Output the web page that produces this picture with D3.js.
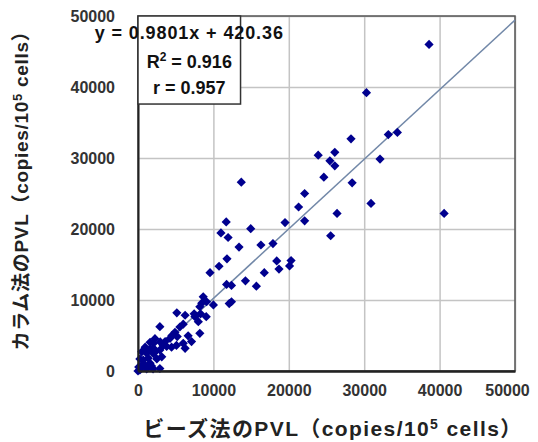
<!DOCTYPE html>
<html>
<head>
<meta charset="utf-8">
<script src="https://cdn.jsdelivr.net/npm/d3@7"></script>
<style>
  body { margin: 0; background: #fff; }
  svg { display: block; }
</style>
</head>
<body>
<svg id="chart" width="538" height="442"></svg>
<script>
// ---- data ----
var beadPVL = [38600, 30300, 33200, 34400, 28250, 23900, 26100, 25450, 26100, 32100,
  24650, 28400, 13700, 22100, 21300, 30900, 26400, 40600, 19500, 22100,
  25550, 11700, 11000, 11950, 14950, 13400, 16300, 17900, 11800, 10750,
  9550, 18400, 18700, 20300, 20100, 14250, 16750, 11750, 12400, 15700,
  8650, 8450, 9100, 10000, 12400, 12100, 8200, 5150, 6250, 7450,
  8300, 7550, 9050, 8000, 2900, 5550, 6000, 4900, 5200, 4500,
  4250, 6650, 7100, 8200, 6000, 6250, 3600, 3800, 4450, 1600,
  2050, 2950, 3350, 2050, 2250, 2900, 3150, 1150, 1350, 700,
  1600, 900, 0, 250, 1150, 2000, 2900, 2250, 950, 500,
  2050, 2500, 250, 1600, 5100, 100, 500, 1800];
var columnPVL = [46000, 39200, 33300, 33600, 32700, 30400, 30800, 29600, 28900, 29850,
  27300, 26500, 26600, 25000, 23100, 23600, 22200, 22200, 20900, 21150,
  19050, 21000, 19450, 18800, 20050, 17450, 17750, 17950, 15800, 14750,
  13850, 15500, 14350, 15550, 14800, 12700, 13850, 12200, 12050, 11950,
  10450, 9550, 9750, 9300, 9750, 9500, 9050, 8200, 7850, 8050,
  8050, 7650, 7650, 6950, 6250, 6200, 6600, 5450, 4850, 5000,
  4600, 4950, 4150, 5300, 3900, 3200, 4150, 3450, 3350, 4050,
  3900, 4100, 3600, 3200, 2700, 2950, 2000, 2500, 1800, 1550,
  1100, 850, 0, 150, 300, 300, 350, 4550, 3350, 2700,
  2450, 1700, 1700, 3150, 3600, 550, 800, 700];

var xTicks = [0, 10000, 20000, 30000, 40000, 50000];
var yTicks = [0, 10000, 20000, 30000, 40000, 50000];

var slope = 0.9801, intercept = 420.36;
var statLines = ["y = 0.9801x + 420.36", "R2 = 0.916", "r = 0.957"];

// ---- layout ----
var svg = d3.select("#chart"),
    margin = {top: 16, right: 23, bottom: 71, left: 138},
    width = +svg.attr("width") - margin.left - margin.right,
    height = +svg.attr("height") - margin.top - margin.bottom,
    g = svg.append("g").attr("transform", "translate(" + margin.left + "," + margin.top + ")");

var font = "'Liberation Sans', Arial, sans-serif";
var jpFont = "'Noto Sans CJK JP', 'Liberation Sans', sans-serif";

var x = d3.scaleLinear().domain([0, 50000]).range([0, width]);
var y = d3.scaleLinear().domain([0, 50000]).range([height, 0]);

// gridlines
g.append("g")
    .attr("class", "grid")
    .call(d3.axisBottom(x).tickValues(xTicks).tickSize(height).tickFormat(""))
    .call(function(s) { s.select(".domain").remove(); })
    .selectAll("line").attr("stroke", "#c4c4c4").attr("stroke-width", 1.5);

g.append("g")
    .attr("class", "grid")
    .call(d3.axisLeft(y).tickValues(yTicks).tickSize(-width).tickFormat(""))
    .call(function(s) { s.select(".domain").remove(); })
    .selectAll("line").attr("stroke", "#c4c4c4").attr("stroke-width", 1.5);

// plot frame
g.append("rect")
    .attr("width", width)
    .attr("height", height)
    .attr("fill", "none")
    .attr("stroke", "#555")
    .attr("stroke-width", 1.5);

// trend line
g.append("line")
    .attr("x1", x(0)).attr("y1", y(intercept))
    .attr("x2", x(50000)).attr("y2", y(slope * 50000 + intercept))
    .attr("stroke", "#7288a8")
    .attr("stroke-width", 1.5);

// points
var diamond = "M0,-4.6L4.6,0L0,4.6L-4.6,0Z";
g.append("g")
  .selectAll("path")
  .data(d3.range(beadPVL.length))
  .enter().append("path")
    .attr("d", diamond)
    .attr("fill", "#00008f")
    .attr("transform", function(i) { return "translate(" + x(beadPVL[i]) + "," + y(columnPVL[i]) + ")"; });

// axes (left + bottom drawn dark)
var xAxis = g.append("g")
    .attr("transform", "translate(0," + height + ")")
    .call(d3.axisBottom(x).tickValues(xTicks).tickSize(0).tickPadding(14).tickFormat(d3.format("d")));
xAxis.select(".domain").attr("stroke", "#222").attr("stroke-width", 2.5);

var yAxis = g.append("g")
    .call(d3.axisLeft(y).tickValues(yTicks).tickSize(0).tickPadding(23).tickFormat(d3.format("d")));
yAxis.select(".domain").attr("stroke", "#222").attr("stroke-width", 2);

svg.selectAll(".tick text")
    .attr("font-family", font)
    .attr("font-weight", "bold")
    .attr("font-size", 16)
    .attr("fill", "#333");

xAxis.selectAll(".tick text").filter(function(d) { return d === 50000; }).attr("dx", -8);

// stats box
var boxW = x(13600);
var box = g.append("g");
box.append("rect")
    .attr("width", boxW)
    .attr("height", y(37600))
    .attr("fill", "#fff")
    .attr("stroke", "#333")
    .attr("stroke-width", 1.5);

var st = box.append("text")
    .attr("font-family", font)
    .attr("font-weight", "bold")
    .attr("font-size", 18)
    .attr("fill", "#111")
    .attr("text-anchor", "middle");

st.append("tspan").attr("x", boxW / 2).attr("y", 23)
    .attr("letter-spacing", 0.9).text(statLines[0]);
var r2 = st.append("tspan").attr("x", boxW / 2).attr("y", 52);
r2.append("tspan").text("R");
r2.append("tspan").attr("font-size", 12).attr("dy", -7).text("2");
r2.append("tspan").attr("dy", 7).text(statLines[1].slice(2));
st.append("tspan").attr("x", boxW / 2).attr("y", 78).text(statLines[2]);

// axis titles
var xt = svg.append("text")
    .attr("x", 333)
    .attr("y", 436)
    .attr("text-anchor", "middle")
    .attr("font-family", jpFont)
    .attr("font-weight", "bold")
    .attr("font-size", 21)
    .attr("letter-spacing", 1.4)
    .attr("fill", "#222");
xt.append("tspan").text("ビーズ法の");
xt.append("tspan").attr("font-family", font).text("PVL");
xt.append("tspan").text("（");
xt.append("tspan").attr("font-family", font).text("copies/10");
xt.append("tspan").attr("font-family", font).attr("font-size", 14).attr("dy", -7).text("5");
xt.append("tspan").attr("font-family", font).attr("dy", 7).text(" cells");
xt.append("tspan").text("）");

var yt = svg.append("text")
    .attr("transform", "translate(28," + 186 + ") rotate(-90)")
    .attr("text-anchor", "middle")
    .attr("font-family", jpFont)
    .attr("font-weight", "bold")
    .attr("font-size", 19)
    .attr("letter-spacing", 0.7)
    .attr("fill", "#222");
yt.append("tspan").text("カラム法の");
yt.append("tspan").attr("font-family", font).text("PVL");
yt.append("tspan").text("（");
yt.append("tspan").attr("font-family", font).text("copies/10");
yt.append("tspan").attr("font-family", font).attr("font-size", 13).attr("dy", -6).text("5");
yt.append("tspan").attr("font-family", font).attr("dy", 6).text(" cells");
yt.append("tspan").text("）");
</script>
</body>
</html>
